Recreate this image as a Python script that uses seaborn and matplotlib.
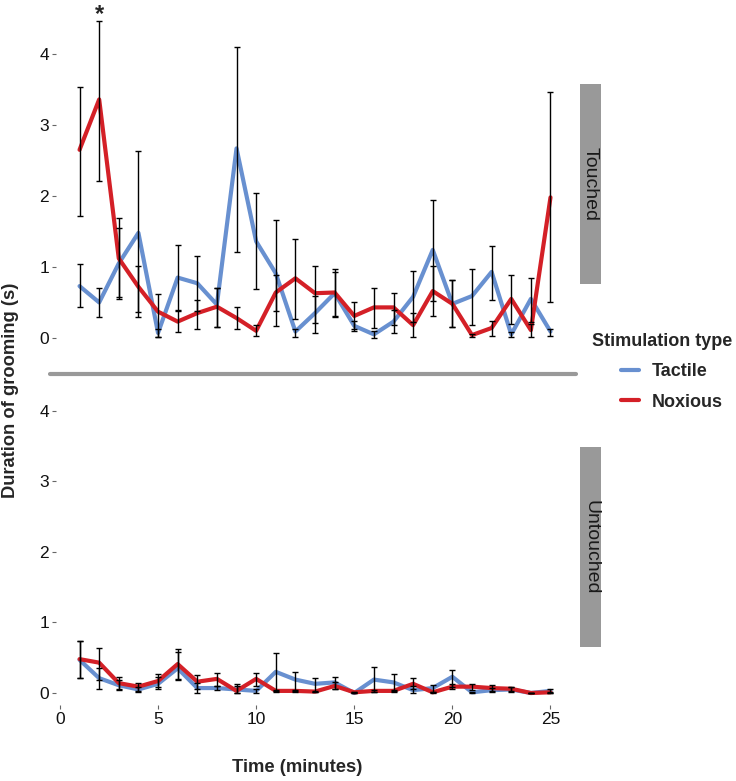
import numpy as np
import pandas as pd
import matplotlib
matplotlib.use("Agg")
import matplotlib.pyplot as plt
from matplotlib.lines import Line2D
from matplotlib.patches import Rectangle
import seaborn as sns

# --- data ---
minutes = [1, 2, 3, 4, 5, 6, 7, 8, 9, 10, 11, 12, 13,
           14, 15, 16, 17, 18, 19, 20, 21, 22, 23, 24, 25]

# Touched panel
touched_tactile = [0.73, 0.50, 1.05, 1.48, 0.07, 0.85, 0.77, 0.47, 2.67, 1.36, 0.91, 0.09, 0.35,
                   0.63, 0.17, 0.05, 0.23, 0.58, 1.24, 0.48, 0.59, 0.93, 0.05, 0.55, 0.09]
touched_tactile_lo = [0.43, 0.29, 0.55, 0.30, 0.02, 0.38, 0.38, 0.16, 1.21, 0.69, 0.17, 0.01, 0.07,
                      0.30, 0.10, 0.00, 0.07, 0.22, 0.52, 0.16, 0.18, 0.53, 0.01, 0.22, 0.03]
touched_tactile_hi = [1.04, 0.70, 1.55, 2.64, 0.12, 1.31, 1.16, 0.70, 4.10, 2.04, 1.66, 0.12, 0.59,
                      0.97, 0.24, 0.10, 0.40, 0.94, 1.94, 0.82, 0.97, 1.30, 0.09, 0.84, 0.12]

touched_noxious = [2.65, 3.36, 1.12, 0.72, 0.37, 0.23, 0.35, 0.44, 0.28, 0.10, 0.64, 0.84, 0.63,
                   0.64, 0.31, 0.43, 0.43, 0.18, 0.66, 0.48, 0.04, 0.14, 0.55, 0.11, 1.98]
touched_noxious_lo = [1.72, 2.21, 0.57, 0.37, 0.02, 0.08, 0.12, 0.16, 0.12, 0.03, 0.38, 0.26, 0.21,
                      0.31, 0.12, 0.14, 0.18, 0.01, 0.31, 0.15, 0.01, 0.03, 0.19, 0.02, 0.51]
touched_noxious_hi = [3.53, 4.47, 1.69, 1.02, 0.62, 0.40, 0.54, 0.70, 0.44, 0.18, 0.88, 1.40, 1.02,
                      0.93, 0.50, 0.70, 0.64, 0.35, 1.02, 0.81, 0.06, 0.24, 0.89, 0.20, 3.47]

# Untouched panel
untouched_tactile = [0.47, 0.21, 0.11, 0.05, 0.13, 0.35, 0.07, 0.07, 0.05, 0.03, 0.30, 0.19, 0.13,
                     0.15, 0.00, 0.19, 0.15, 0.04, 0.07, 0.23, 0.01, 0.04, 0.05, 0.00, 0.03]
untouched_tactile_lo = [0.21, 0.06, 0.04, 0.02, 0.05, 0.18, 0.00, 0.04, 0.00, 0.00, 0.03, 0.03, 0.02,
                        0.06, 0.00, 0.02, 0.03, 0.00, 0.01, 0.09, 0.00, 0.01, 0.02, 0.00, 0.00]
untouched_tactile_hi = [0.74, 0.35, 0.18, 0.09, 0.22, 0.58, 0.14, 0.10, 0.10, 0.06, 0.57, 0.30, 0.21,
                        0.23, 0.01, 0.37, 0.27, 0.10, 0.11, 0.33, 0.02, 0.07, 0.08, 0.00, 0.06]

untouched_noxious = [0.48, 0.43, 0.14, 0.09, 0.17, 0.41, 0.16, 0.20, 0.03, 0.20, 0.03, 0.03, 0.02,
                     0.10, 0.01, 0.03, 0.03, 0.13, 0.01, 0.09, 0.09, 0.07, 0.06, 0.00, 0.01]
untouched_noxious_lo = [0.21, 0.19, 0.06, 0.03, 0.08, 0.20, 0.06, 0.10, 0.00, 0.10, 0.02, 0.02, 0.01,
                        0.05, 0.00, 0.02, 0.02, 0.05, 0.00, 0.05, 0.04, 0.03, 0.03, 0.00, 0.00]
untouched_noxious_hi = [0.74, 0.64, 0.23, 0.14, 0.27, 0.62, 0.25, 0.28, 0.13, 0.28, 0.04, 0.04, 0.03,
                        0.15, 0.02, 0.04, 0.04, 0.21, 0.02, 0.13, 0.13, 0.11, 0.09, 0.00, 0.02]

stim_types = ["Tactile", "Noxious"]
panels = ["Touched", "Untouched"]
colors = {"Tactile": "#6890d0", "Noxious": "#d42027"}

# long table for seaborn
rows = []
series = {
    ("Touched", "Tactile"): (touched_tactile, touched_tactile_lo, touched_tactile_hi),
    ("Touched", "Noxious"): (touched_noxious, touched_noxious_lo, touched_noxious_hi),
    ("Untouched", "Tactile"): (untouched_tactile, untouched_tactile_lo, untouched_tactile_hi),
    ("Untouched", "Noxious"): (untouched_noxious, untouched_noxious_lo, untouched_noxious_hi),
}
for (panel, stim), (mean, lo, hi) in series.items():
    for t, m, l, h in zip(minutes, mean, lo, hi):
        rows.append({"Panel": panel, "Stimulation": stim, "Time": t,
                     "Duration": m, "lo": l, "hi": h})
df = pd.DataFrame(rows)

# --- plot ---
sns.set_style("white")
plt.rcParams["font.family"] = ["Liberation Sans", "DejaVu Sans"]

W, H = 736, 781
fig = plt.figure(figsize=(W / 100, H / 100), dpi=100)


def px_axes(left, top, right, bottom):
    return fig.add_axes([left / W, 1 - bottom / H, (right - left) / W, (bottom - top) / H])


ax_top = px_axes(56, 5, 576, 350)
ax_bot = px_axes(56, 362, 576, 705)

for ax, panel in zip([ax_top, ax_bot], panels):
    sub = df[df["Panel"] == panel]
    sns.lineplot(data=sub, x="Time", y="Duration", hue="Stimulation",
                 hue_order=stim_types, palette=colors, linewidth=3,
                 errorbar=None, legend=False, ax=ax)
    for stim in stim_types:
        s = sub[sub["Stimulation"] == stim]
        ax.errorbar(s["Time"], s["Duration"],
                    yerr=[s["Duration"] - s["lo"], s["hi"] - s["Duration"]],
                    fmt="none", ecolor="black", elinewidth=1, capsize=2.5,
                    capthick=1, zorder=5)
    ax.set_xlim(-0.2, 26.3)
    ax.set_ylim(-0.17, 4.69)
    ax.set_yticks([0, 1, 2, 3, 4])
    ax.set_xlabel("")
    ax.set_ylabel("")
    for sp in ax.spines.values():
        sp.set_visible(False)
    ax.tick_params(axis="both", left=True, bottom=True, length=3, width=0.8,
                   color="#666666", labelsize=12.5, pad=2, labelcolor="#111111")

ax_top.set_xticks([])
ax_bot.set_xticks([0, 5, 10, 15, 20, 25])

# significance mark
ax_top.text(2, 4.55, "*", ha="center", va="center", fontsize=17,
            fontweight="bold", clip_on=False)

# panel separator
fig.add_artist(Line2D([50 / W, 576 / W], [1 - 374 / H, 1 - 374 / H],
                      color="#999999", lw=3))

# facet strips
for label, top, bottom in [("Touched", 84, 284), ("Untouched", 447, 647)]:
    fig.add_artist(Rectangle((580 / W, 1 - bottom / H), 21 / W, (bottom - top) / H,
                             transform=fig.transFigure, color="#999999", lw=0))
    fig.text(590.5 / W, 1 - (top + bottom) / 2 / H, label, rotation=270,
             ha="center", va="center", fontsize=14, color="#1a1a1a")

# axis titles
fig.text(11 / W, 1 - 390 / H, "Duration of grooming (s)", rotation=90,
         ha="center", va="center", fontsize=13.2, fontweight="bold")
fig.text(297 / W, 1 - 768 / H, "Time (minutes)",
         ha="center", va="center", fontsize=13.2, fontweight="bold")

# legend: title as text, entries indented below it
fig.text(592 / W, 1 - 342 / H, "Stimulation type", ha="left", va="center",
         fontsize=13, fontweight="bold")
handles = [Line2D([0], [0], color=colors[s], lw=3) for s in stim_types]
fig.legend(handles, stim_types, loc="upper left",
           bbox_to_anchor=(621 / W, 1 - 363 / H), frameon=False,
           borderpad=0, borderaxespad=0,
           handlelength=1.0, handletextpad=0.7, labelspacing=0.75,
           prop={"weight": "bold", "size": 13})

fig.savefig("out.png", dpi=100)
